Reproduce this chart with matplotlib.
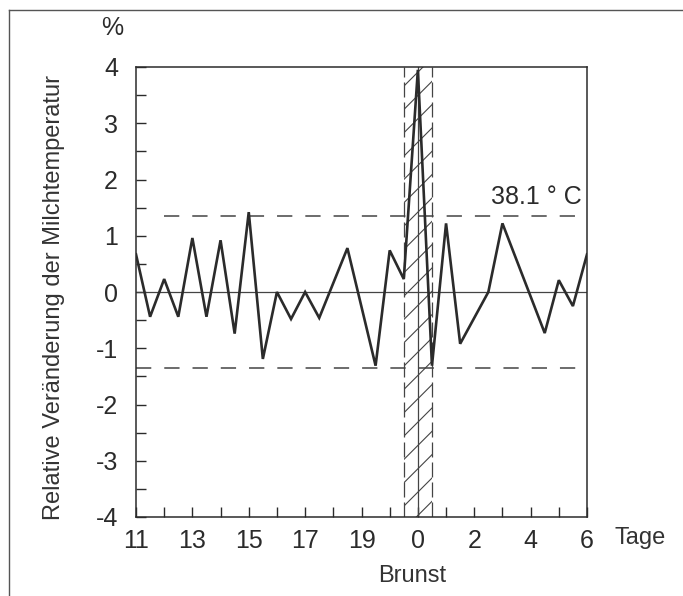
import matplotlib.pyplot as plt
from matplotlib.lines import Line2D

# Tage ab Tag 11 des Zyklus (halbtaegige Messungen, morgens/abends)
tage_pos = [0, 0.5, 1, 1.5, 2, 2.5, 3, 3.5, 4, 4.5, 5, 5.5, 6, 6.5, 7.5, 8.5,
            9, 9.5, 10, 10.5, 11, 11.5, 12.5, 13, 14.5, 15, 15.5, 16]
rel_temp = [0.67, -0.44, 0.23, -0.44, 0.96, -0.44, 0.92, -0.74, 1.42, -1.19,
            0.0, -0.48, 0.0, -0.46, 0.78, -1.31, 0.74, 0.23, 3.95, -1.31,
            1.22, -0.92, 0.0, 1.22, -0.73, 0.21, -0.25, 0.67]

tick_pos = [0, 2, 4, 6, 8, 10, 12, 14, 16]
tick_labels = ["11", "13", "15", "17", "19", "0", "2", "4", "6"]
grenze = 1.35          # Grenze entspricht 38.1 °C
brunst_von, brunst_bis, brunst_tag = 9.5, 10.5, 10

W, H = 683, 596
DPI = 140              # hoehere dpi -> Schraffurabstand wie im Original
k = 100 / DPI          # Groessen unten sind fuer 100 dpi gedacht

tickfont = ['Liberation Sans', 'DejaVu Sans']
labelfont = ['Liberation Sans', 'DejaVu Sans']
ink = '#2b2b2b'
grau = '#444444'
plt.rcParams['hatch.linewidth'] = 0.8 * k
plt.rcParams['axes.unicode_minus'] = False

fig = plt.figure(figsize=(W / DPI, H / DPI), dpi=DPI)
ax = fig.add_axes([136 / W, (H - 517) / H, 451 / W, 450 / H])
ax.set_xlim(0, 16)
ax.set_ylim(-4, 4)

# Brunst-Bereich schraffiert
ax.axvspan(brunst_von, brunst_bis, facecolor='none', edgecolor=grau,
           hatch='//', linewidth=0)
for xv in (brunst_von, brunst_bis):
    ax.axvline(xv, color=grau, lw=0.9 * k, linestyle=(0, (12, 4)))
ax.axvline(brunst_tag, color=grau, lw=0.9 * k)

# Nulllinie und Grenzen
ax.axhline(0, color=grau, lw=0.9 * k)
ax.hlines(grenze, 1, 16, color=grau, lw=1.1 * k, linestyles=[(0, (10, 8.5))])
ax.hlines(-grenze, 0, 16, color=grau, lw=1.1 * k, linestyles=[(0, (10, 8.5))])

ax.plot(tage_pos, rel_temp, color=ink, lw=1.9 * k, solid_joinstyle='miter')

ax.text(15.8, grenze + 0.12, "38.1 ° C", ha='right', va='bottom',
        fontsize=18 * k, family=tickfont, color=ink)

for s in ax.spines.values():
    s.set_linewidth(1.1 * k)
    s.set_color(ink)

ax.set_xticks(tick_pos)
ax.set_xticklabels(tick_labels)
ax.set_xticks(range(0, 17), minor=True)
ax.set_yticks(range(-4, 5))
ax.set_yticks([v / 2 for v in range(-8, 9)], minor=True)
ax.tick_params(which='both', direction='in', length=7 * k, width=1.0 * k,
               color=ink, top=False, right=False)
ax.tick_params(axis='x', pad=9 * k, labelsize=18 * k, labelcolor=ink)
ax.tick_params(axis='y', pad=13 * k, labelsize=18 * k, labelcolor=ink)
for lab in ax.get_xticklabels() + ax.get_yticklabels():
    lab.set_family(tickfont)

fig.text(112 / W, 1 - 28 / H, "%", ha='center', va='center', fontsize=18 * k,
         family=tickfont, color=ink)
fig.text(54 / W, 1 - 297 / H, "Relative Veränderung der Milchtemperatur",
         rotation=90, ha='center', va='center', fontsize=17 * k,
         family=labelfont, color='#333333')
fig.text(614 / W, 1 - 538 / H, "Tage", ha='left', va='center', fontsize=17 * k,
         family=labelfont, color='#333333')
fig.text(412 / W, 1 - 576 / H, "Brunst", ha='center', va='center',
         fontsize=17 * k, family=labelfont, color='#333333')

# Rahmen (oben und links)
fig.add_artist(Line2D([9 / W, 9 / W], [0, 1 - 10 / H], transform=fig.transFigure,
                      color='#555555', lw=1.0 * k))
fig.add_artist(Line2D([9 / W, 1], [1 - 10 / H, 1 - 10 / H],
                      transform=fig.transFigure, color='#555555', lw=1.0 * k))

fig.savefig('out.png', dpi=DPI)
